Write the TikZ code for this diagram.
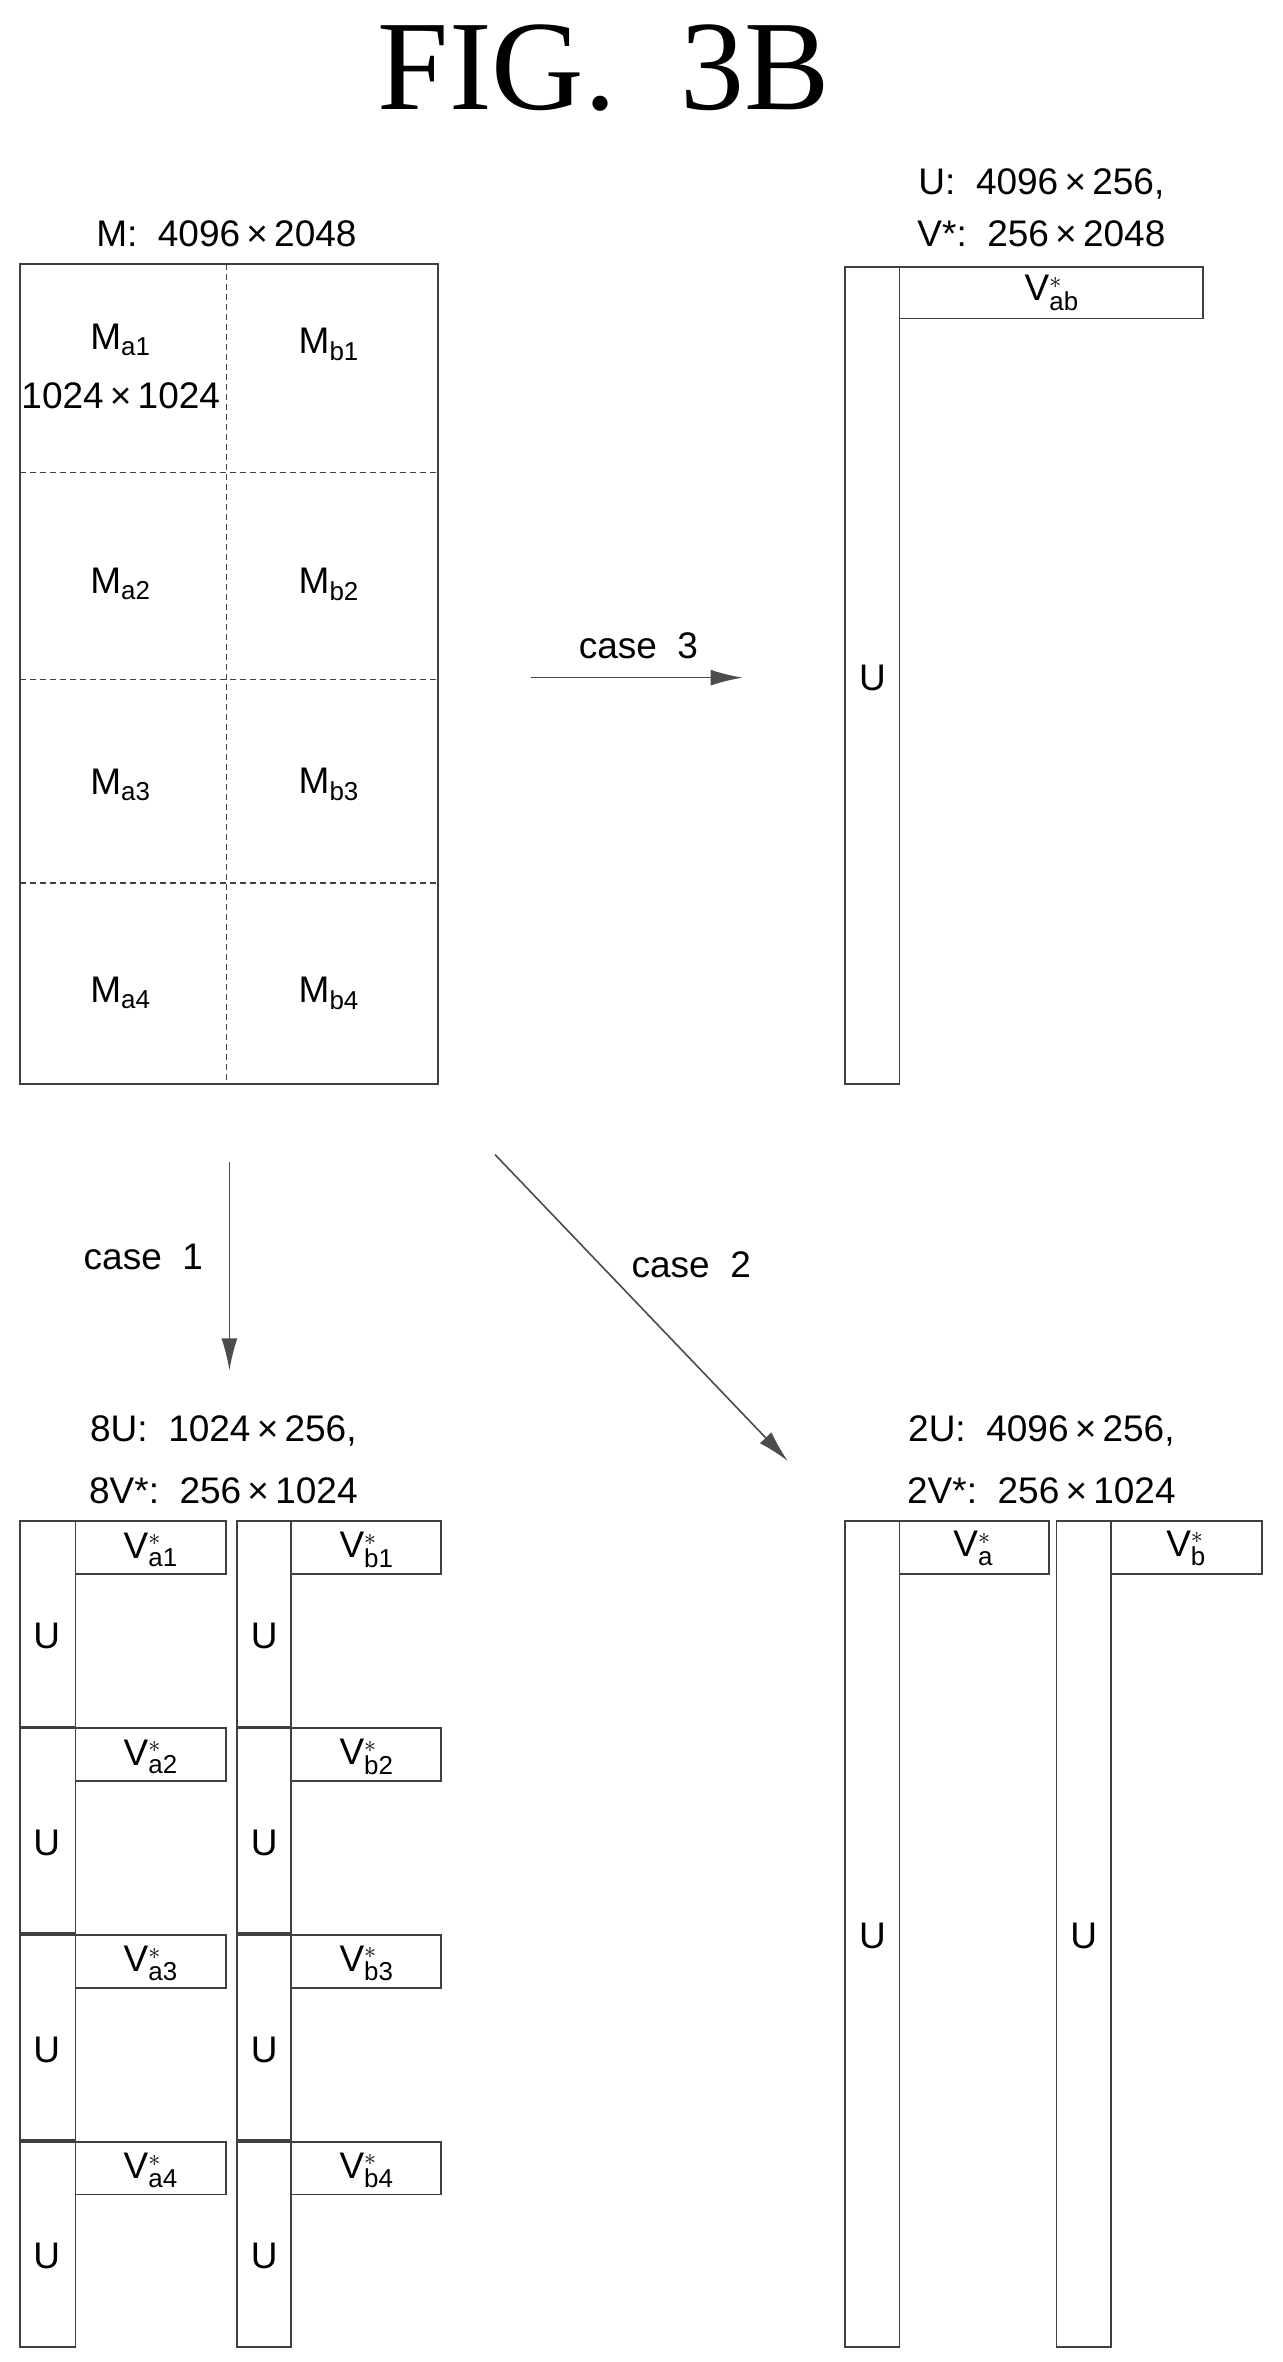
\documentclass[tikz,border=0pt]{standalone}
\usepackage{fontspec}
\setmainfont{Liberation Sans}
\newfontfamily\titlefont{Liberation Serif}
\usetikzlibrary{arrows.meta}
\begin{document}
\begin{tikzpicture}[x=0.7545pt,y=-0.7545pt,
  box/.style={draw=black!75,line width=0.9pt},
  lab/.style={font=\fontsize{18.5}{20}\selectfont,inner sep=0pt},
  arr/.style={draw=black!70,line width=0.8pt,-{Latex[length=16pt,width=8pt]}}]
\useasboundingbox[fill=white] (0,0) rectangle (850,1565);
\node[font=\titlefont\fontsize{64}{66}\selectfont] (title) at (400,45) {FIG.\ \ 3B};
% M matrix
\node[lab] (mlab) at (150,155) {M:\ \ 4096\,×\,2048};
\draw[box] (13,175) rectangle (290,718);
\draw[box,densely dashed,line width=0.6pt] (150,175) -- (150,718);
\foreach \y in {313,450,585} \draw[box,densely dashed,line width=0.6pt] (13,\y) -- (290,\y);
\node[lab] (ma1) at (80,225) {M$_{\mathrm{a1}}$};
\node[lab] (msz) at (80,262) {1024\,×\,1024};
\node[lab] (mb1) at (218,228) {M$_{\mathrm{b1}}$};
\node[lab] (ma2) at (80,387) {M$_{\mathrm{a2}}$};
\node[lab] (mb2) at (218,387) {M$_{\mathrm{b2}}$};
\node[lab] (ma3) at (80,520) {M$_{\mathrm{a3}}$};
\node[lab] (mb3) at (218,520) {M$_{\mathrm{b3}}$};
\node[lab] (ma4) at (80,658) {M$_{\mathrm{a4}}$};
\node[lab] (mb4) at (218,658) {M$_{\mathrm{b4}}$};
% case 3
\coordinate (c3s) at (352,449); \coordinate (c3e) at (492,449);
\draw[arr] (c3s) -- (c3e);
\node[lab] (c3) at (423,428) {case\ \ 3};
\node[lab] (r1) at (690,122) {U:\ \ 4096\,×\,256,};
\node[lab] (r2) at (690,155) {V*:\ \ 256\,×\,2048};
\draw[box] (560,177) rectangle (596,718);
\draw[box] (596,177) rectangle (797,211);
\node[lab] (vab) at (697,194) {V$^{*}_{\mathrm{ab}}$};
\node[lab] (ru) at (578,449) {U};
% case 1
\coordinate (c1s) at (152,770); \coordinate (c1e) at (152,908);
\draw[arr] (c1s) -- (c1e);
\node[lab] (c1) at (95,833) {case\ \ 1};
% case 2
\coordinate (c2s) at (328,765); \coordinate (c2e) at (522,968);
\draw[arr] (c2s) -- (c2e);
\node[lab] (c2) at (458,838) {case\ \ 2};
% bottom left
\node[lab] (l1) at (148,948) {8U:\ \ 1024\,×\,256,};
\node[lab] (l2) at (148,988) {8V*:\ \ 256\,×\,1024};
\foreach \i/\y in {1/1008,2/1145,3/1282,4/1419}{
  \draw[box] (13,\y) rectangle (50,\y+136);
  \draw[box] (50,\y) rectangle (150,\y+35);
  \draw[box] (157,\y) rectangle (193,\y+136);
  \draw[box] (193,\y) rectangle (292,\y+35);
  \node[lab] at (100,\y+19) {V$^{*}_{\mathrm{a\i}}$};
  \node[lab] at (243,\y+19) {V$^{*}_{\mathrm{b\i}}$};
  \node[lab] at (31,\y+76) {U};
  \node[lab] at (175,\y+76) {U};
}
% bottom right
\node[lab] (q1) at (690,948) {2U:\ \ 4096\,×\,256,};
\node[lab] (q2) at (690,988) {2V*:\ \ 256\,×\,1024};
\draw[box] (560,1008) rectangle (596,1555);
\draw[box] (596,1008) rectangle (695,1043);
\draw[box] (700,1008) rectangle (736,1555);
\draw[box] (736,1008) rectangle (836,1043);
\node[lab] (va) at (645,1026) {V$^{*}_{\mathrm{a}}$};
\node[lab] (vb) at (786,1026) {V$^{*}_{\mathrm{b}}$};
\node[lab] (u1) at (578,1283) {U};
\node[lab] (u2) at (718,1283) {U};
\end{tikzpicture}
\end{document}
